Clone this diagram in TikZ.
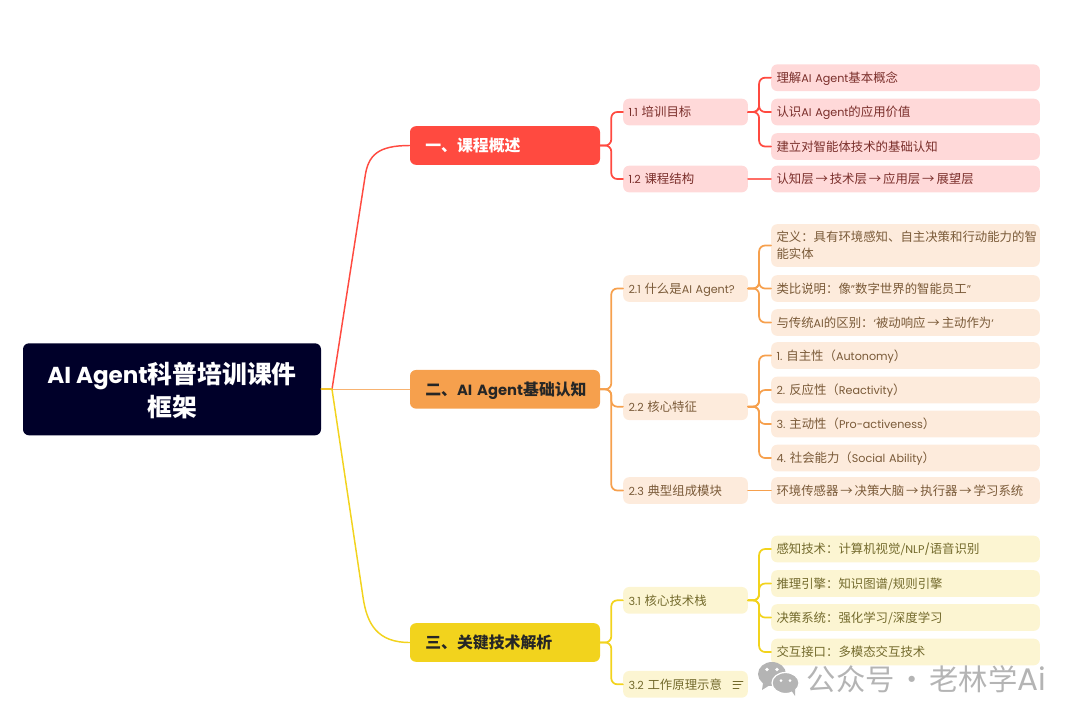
\documentclass[tikz,border=0pt]{standalone}
\usepackage{fontspec}
\setmainfont{Poppins}[Scale=0.9, BoldFeatures={Scale=0.93}]
\newfontfamily\cjk{Noto Sans CJK SC}
\newcommand{\zh}[1]{{\cjk #1}}
\newcommand{\toarr}{\hspace{1.4pt}→\hspace{1.4pt}}
\usepackage{xcolor}
\definecolor{rootc}{HTML}{000029}
\definecolor{redc}{HTML}{FF4A40}
\definecolor{redl}{HTML}{FFD9D9}
\definecolor{redt}{HTML}{7A2E2A}
\definecolor{orac}{HTML}{F6A04D}
\definecolor{oral}{HTML}{FDEBDC}
\definecolor{orat}{HTML}{7A5A38}
\definecolor{yelc}{HTML}{F2D31D}
\definecolor{yell}{HTML}{FCF5D2}
\definecolor{yelt}{HTML}{736A2C}
\definecolor{markc}{HTML}{B4B4B4}
\tikzset{
  rootbox/.style={rectangle, rounded corners=4.5, fill=rootc, text=white, minimum width=223.5, minimum height=69, align=center, text height=41.5, text depth=1, font=\fontsize{18.6}{24.7}\selectfont\bfseries},
  mainbox/.style={rectangle, rounded corners=4.5, minimum height=29, inner xsep=11.5, text width=119.5, align=left, text height=10.8, text depth=1.6, font=\fontsize{11.9}{14}\selectfont\bfseries},
  subbox/.style={rectangle, rounded corners=4.5, minimum height=20, inner xsep=4, inner ysep=0, text width=85.5, align=left, text height=8.8, text depth=1.4, font=\fontsize{9.3}{12}\selectfont},
  leafbox/.style={rectangle, rounded corners=4.5, minimum height=20, inner xsep=4, inner ysep=0, text width=193.5, align=left, text height=8.8, text depth=1.4, font=\fontsize{9.3}{12.8}\selectfont},
  redbox/.style={fill=redl, text=redt},
  orabox/.style={fill=oral, text=orat},
  yelbox/.style={fill=yell, text=yelt},
  link/.style={line width=1.3, rounded corners=4.5},
  every picture/.style={line cap=round, line join=round}
}

\begin{document}
\begin{tikzpicture}[x=0.75pt,y=-0.75pt]
  \useasboundingbox (0,0) rectangle (1080,722);

  % root and main topics
  \node[rootbox] (root) at (172,389.3) {AI Agent\zh{科普培训课件}\\\zh{框架}};
  \node[mainbox, fill=redc, text=white] (m1) at (505,145.5) {\zh{一、课程概述}};
  \node[mainbox, fill=orac, text=black!85] (m2) at (505,389.3) {\mbox{\zh{二、}AI Agent\zh{基础认知}}};
  \node[mainbox, fill=yelc, text=black!85] (m3) at (505,642.5) {\zh{三、关键技术解析}};
  \coordinate (hub) at (332,389.3);

  % subtopics
  \node[subbox, redbox] (s11) at (685.5,112) {1.1 \zh{培训目标}};
  \node[subbox, redbox] (s12) at (685.5,179) {1.2 \zh{课程结构}};
  \node[subbox, orabox] (s21) at (685.5,288.5) {\mbox{2.1 \zh{什么是}AI Agent?}};
  \node[subbox, orabox] (s22) at (685.5,406.7) {2.2 \zh{核心特征}};
  \node[subbox, orabox] (s23) at (685.5,490.5) {2.3 \zh{典型组成模块}};
  \node[subbox, yelbox] (s31) at (685.5,600.3) {3.1 \zh{核心技术栈}};
  \node[subbox, yelbox] (s32) at (685.5,684.3) {3.2 \zh{工作原理示意}};

  % leaves
  \node[leafbox, redbox] (a1) at (905.5,77.7) {\zh{理解}AI Agent\zh{基本概念}};
  \node[leafbox, redbox] (a2) at (905.5,112) {\zh{认识}AI Agent\zh{的应用价值}};
  \node[leafbox, redbox] (a3) at (905.5,146.5) {\zh{建立对智能体技术的基础认知}};
  \node[leafbox, redbox] (a4) at (905.5,179) {\zh{认知层\toarr 技术层\toarr 应用层\toarr 展望层}};

  \node[leafbox, orabox, minimum height=32, text height=1, text depth=7] (b1) at (905.5,245.5) {\zh{定义：具有环境感知、自主决策和行动能力的智}\\\zh{能实体}};
  \node[leafbox, orabox] (b2) at (905.5,288.5) {\zh{类比说明：像}"\zh{数字世界的智能员工}"};
  \node[leafbox, orabox] (b3) at (905.5,322.5) {\zh{与传统}AI\zh{的区别：}`\zh{被动响应\toarr 主动作为}`};
  \node[leafbox, orabox] (c1) at (905.5,355.5) {1.\hspace{3pt}\zh{自主性（}Autonomy\zh{）}};
  \node[leafbox, orabox] (c2) at (905.5,390) {2.\hspace{3pt}\zh{反应性（}Reactivity\zh{）}};
  \node[leafbox, orabox] (c3) at (905.5,424) {3.\hspace{3pt}\zh{主动性（}Pro-activeness\zh{）}};
  \node[leafbox, orabox] (c4) at (905.5,458) {4.\hspace{3pt}\zh{社会能力（}Social Ability\zh{）}};
  \node[leafbox, orabox] (d1) at (905.5,490.5) {\zh{环境传感器\toarr 决策大脑\toarr 执行器\toarr 学习系统}};

  \node[leafbox, yelbox] (e1) at (905.5,549) {\zh{感知技术：计算机视觉/}NLP/\zh{语音识别}};
  \node[leafbox, yelbox] (e2) at (905.5,583.5) {\zh{推理引擎：知识图谱/规则引擎}};
  \node[leafbox, yelbox] (e3) at (905.5,617.5) {\zh{决策系统：强化学习/深度学习}};
  \node[leafbox, yelbox] (e4) at (905.5,652) {\zh{交互接口：多模态交互技术}};

  % curved links from the root
  \draw[line width=1.1, orac!80] (hub) -- (m2.west);
  \draw[line width=1.1, redc] (hub) -- (365,177) .. controls (368,155) and (378,145.5) .. (m1.west);
  \draw[line width=1.1, yelc] (hub) -- (363,597) .. controls (367,625) and (378,642.5) .. (m3.west);
  \draw[line width=1.3, yelc!70!orac] (root.east) -- (hub);

  % red branch
  \foreach \t in {s11,s12} \draw[link, redc] (m1.east) -- ++(11,0) |- (\t.west);
  \foreach \t in {a1,a2,a3} \draw[link, redc] (s11.east) -- ++(11,0) |- (\t.west);
  \draw[link, redc!80] (s12.east) -- (a4.west);

  % orange branch
  \foreach \t in {s21,s22,s23} \draw[link, orac] (m2.east) -- ++(11,0) |- (\t.west);
  \foreach \t in {b1,b2,b3} \draw[link, orac] (s21.east) -- ++(11,0) |- (\t.west);
  \foreach \t in {c1,c2,c3,c4} \draw[link, orac] (s22.east) -- ++(11,0) |- (\t.west);
  \draw[link, orac] (s23.east) -- (d1.west);

  % yellow branch
  \foreach \t in {s31,s32} \draw[link, yelc] (m3.east) -- ++(11,0) |- (\t.west);
  \foreach \t in {e1,e2,e3,e4} \draw[link, yelc] (s31.east) -- ++(11,0) |- (\t.west);

  % note mark on 3.2
  \draw[line width=0.7, yelt] (733,681) -- (743,681);
  \draw[line width=0.7, yelt] (733,684.5) -- (741,684.5);
  \draw[line width=0.7, yelt] (733,688) -- (739,688);

  % watermark
  \fill[markc] (772,674) ellipse (14 and 12);
  \fill[markc] (763,683) -- (762,690) -- (770,685) -- cycle;
  \fill[white] (767,669.5) circle (1.8);
  \fill[white] (777,669.5) circle (1.8);
  \fill[markc, draw=white, line width=0.9] (785.5,683) ellipse (13.5 and 10.5);
  \fill[markc] (791,690) -- (795,696) -- (795,688) -- cycle;
  \fill[white] (781,680.5) circle (1.5);
  \fill[white] (790,680.5) circle (1.5);
  \node[text=markc, anchor=west, inner sep=0, font=\fontsize{22}{24}\selectfont] (mark) at (806.5,679) {\zh{公众号}\hspace{2pt}\zh{·}\hspace{2pt}\zh{老林学}{\fontsize{26}{24}\selectfont Ai}};
\end{tikzpicture}
\end{document}
